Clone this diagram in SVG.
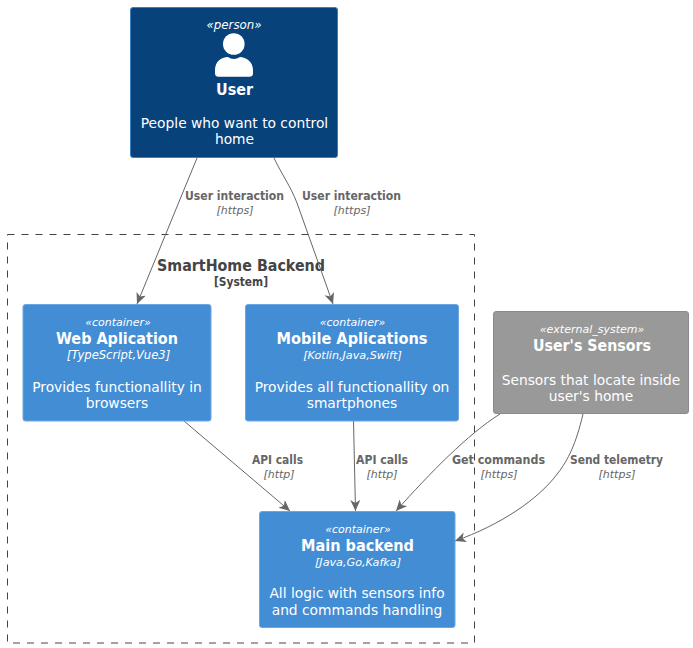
<svg xmlns="http://www.w3.org/2000/svg" width="693" height="648" viewBox="0 0 693 648">
<style>
text{font-family:"DejaVu Sans","Liberation Sans",sans-serif;text-anchor:middle}
.box{stroke-width:1;rx:2.5px;ry:2.5px}
.per{fill:#08427b;stroke:#3c7fc0}
.con{fill:#438dd5;stroke:#6ca6e0}
.ext{fill:#999;stroke:#8a8a8a}
.st{font-size:11px;font-style:italic;fill:#fff}
.ti{font-size:15px;font-weight:bold;fill:#fff}
.te{font-size:11.200px;font-style:italic;fill:#fff}
.de{font-size:13.800px;fill:#fff}
.ll{font-size:11.500px;font-weight:bold;fill:#666}
.lt{font-size:11px;font-style:italic;fill:#666}
.ln{fill:none;stroke:#666;stroke-width:1;marker-end:url(#a)}
</style>
<defs>
<marker id="a" markerUnits="userSpaceOnUse" markerWidth="14" markerHeight="12" refX="11" refY="5" orient="auto" viewBox="0 0 14 12"><path d="M0 0L11 5 0 10 3 5Z" fill="#666"/></marker>
</defs>
<g id="boundary">
<rect x="7.500" y="234.500" width="467" height="408.500" fill="none" stroke="#444" stroke-dasharray="7 7"/>
<text x="241" y="271" font-size="15" font-weight="bold" fill="#444" textLength="168" lengthAdjust="spacingAndGlyphs">SmartHome Backend</text>
<text x="241" y="286" font-size="11.500" font-weight="bold" fill="#444" textLength="54" lengthAdjust="spacingAndGlyphs">[System]</text>
</g>
<g id="connectors">
<path class="ln" d="M197 158L137 304"/>
<path class="ln" d="M274 158C282 175 290 185 297 203L333 304"/>
<path class="ln" d="M184 421L290 511"/>
<path class="ln" d="M353.500 421L355.500 511"/>
<path class="ln" d="M500 414C468 434 430 473 396 511"/>
<path class="ln" d="M583 414C576 444 568 460 558 473C538 500 500 525 455 541"/>
</g>
<g id="labels">
<text class="ll" x="234.500" y="200" textLength="99" lengthAdjust="spacingAndGlyphs">User interaction</text><text class="lt" x="235" y="214">[https]</text>
<text class="ll" x="351.500" y="200" textLength="99" lengthAdjust="spacingAndGlyphs">User interaction</text><text class="lt" x="352" y="214">[https]</text>
<text class="ll" x="277.500" y="464" textLength="51" lengthAdjust="spacingAndGlyphs">API calls</text><text class="lt" x="279" y="478">[http]</text>
<text class="ll" x="382" y="464" textLength="52" lengthAdjust="spacingAndGlyphs">API calls</text><text class="lt" x="382" y="478">[http]</text>
<text class="ll" x="498.500" y="464" textLength="93" lengthAdjust="spacingAndGlyphs">Get commands</text><text class="lt" x="499" y="478">[https]</text>
<text class="ll" x="616.500" y="464" textLength="93" lengthAdjust="spacingAndGlyphs">Send telemetry</text><text class="lt" x="617" y="478">[https]</text>
</g>
<g id="user">
<rect class="box per" x="130.500" y="7.500" width="207" height="150"/>
<text class="st" x="234" y="29" style="font-size:11.800px">«person»</text>
<circle cx="233.800" cy="44" r="10.800" fill="#fff"/>
<path d="M218.500 76.700H249.500C252 76.700 253 75.500 253 73V70C253 62 246 57 240 57C236 59.500 231.500 59.500 228 57C221 57 215 62 215 70V73C215 75.500 216 76.700 218.500 76.700Z" fill="#fff"/>
<text class="ti" x="234.500" y="95" textLength="37" lengthAdjust="spacingAndGlyphs">User</text>
<text class="de" x="234.500" y="128">People who want to control</text>
<text class="de" x="234.500" y="144">home</text>
</g>
<g id="web">
<rect class="box con" x="23" y="304.500" width="188" height="116.500"/>
<text class="st" x="118" y="326">«container»</text>
<text class="ti" x="117" y="344" textLength="122" lengthAdjust="spacingAndGlyphs">Web Aplication</text>
<text class="te" x="118.500" y="359" style="font-size:11.600px">[TypeScript,Vue3]</text>
<text class="de" x="117" y="392">Provides functionallity in</text>
<text class="de" x="117" y="408">browsers</text>
</g>
<g id="mobile">
<rect class="box con" x="245.500" y="304.500" width="213" height="116.500"/>
<text class="st" x="352.500" y="326">«container»</text>
<text class="ti" x="352" y="344" textLength="151" lengthAdjust="spacingAndGlyphs">Mobile Aplications</text>
<text class="te" x="352.500" y="359">[Kotlin,Java,Swift]</text>
<text class="de" x="352" y="392">Provides all functionallity on</text>
<text class="de" x="352" y="408">smartphones</text>
</g>
<g id="main">
<rect class="box con" x="259.500" y="511.500" width="195.500" height="116"/>
<text class="st" x="358" y="533">«container»</text>
<text class="ti" x="357.500" y="551" textLength="113" lengthAdjust="spacingAndGlyphs">Main backend</text>
<text class="te" x="358" y="566">[Java,Go,Kafka]</text>
<text class="de" x="357" y="598">All logic with sensors info</text>
<text class="de" x="357" y="615">and commands handling</text>
</g>
<g id="sensors">
<rect class="box ext" x="493.500" y="311.500" width="195" height="102"/>
<text class="st" x="592" y="333">«external_system»</text>
<text class="ti" x="592" y="351" textLength="118" lengthAdjust="spacingAndGlyphs">User's Sensors</text>
<text class="de" x="591" y="385">Sensors that locate inside</text>
<text class="de" x="591" y="401">user's home</text>
</g>
</svg>
